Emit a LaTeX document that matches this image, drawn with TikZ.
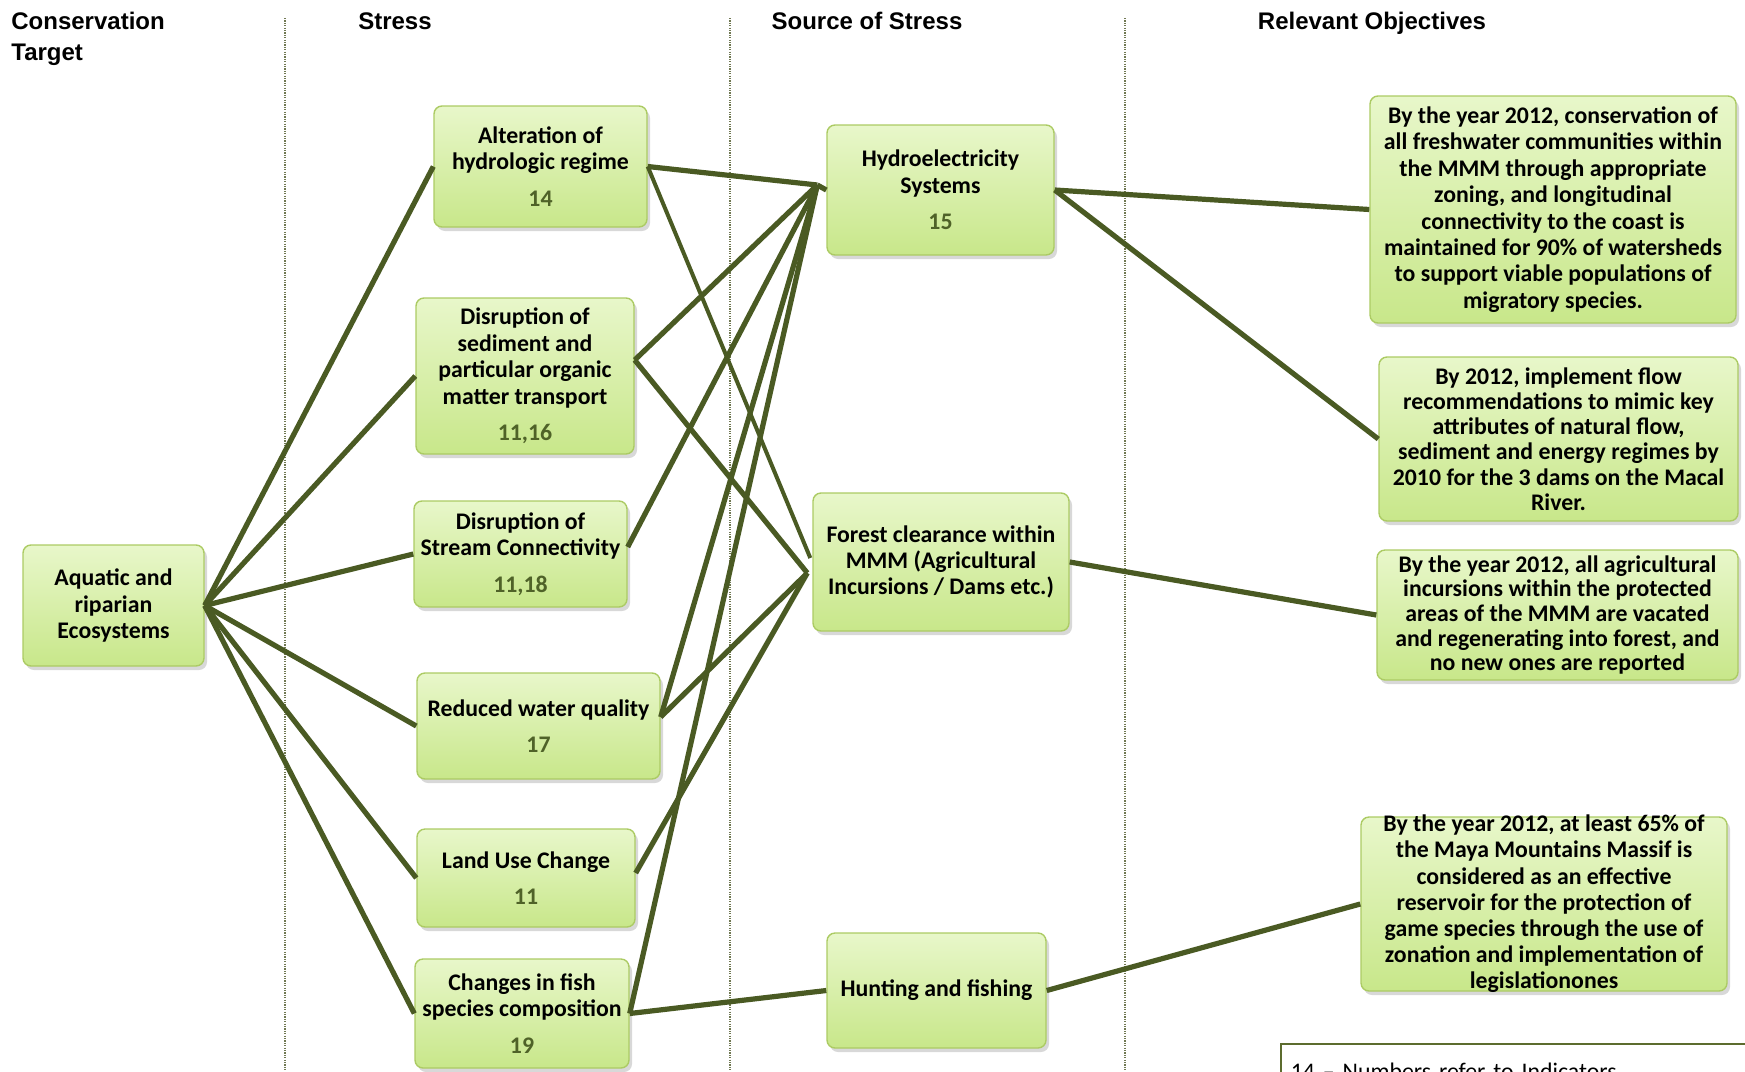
\documentclass[tikz,border=0pt]{standalone}
\usepackage{fontspec}
\setmainfont{Carlito}
\newfontfamily\headfont{Liberation Sans}
\usetikzlibrary{shadows}

\definecolor{linkgreen}{RGB}{74,90,35}
\definecolor{numgreen}{RGB}{79,98,40}
\definecolor{boxtop}{RGB}{232,247,202}
\definecolor{boxmid}{RGB}{220,242,176}
\definecolor{boxbot}{RGB}{200,231,138}
\definecolor{boxrim}{RGB}{172,203,100}
\definecolor{sepgray}{RGB}{112,120,82}
\definecolor{noterim}{RGB}{92,108,46}

\tikzset{
  card/.style={draw=boxrim, line width=0.7pt, rounded corners=4pt,
    top color=boxtop, middle color=boxmid, bottom color=boxbot,
    drop shadow={shadow xshift=1.5pt, shadow yshift=-2pt, opacity=0.28, fill=black!55},
    font=\bfseries\fontsize{11.9}{13.2}\selectfont, align=center, inner sep=2pt, text=black},
  head/.style={font=\headfont\bfseries\fontsize{12}{15.5}\selectfont, inner sep=0pt, align=left},
  sepline/.style={draw=sepgray, line width=0.6pt, dash pattern=on 0.6pt off 0.6pt},
  link/.style={draw=linkgreen, line width=2.6pt},
  thinlink/.style={draw=linkgreen, line width=2pt},
  notebox/.style={draw=noterim, line width=0.8pt, anchor=north west, align=left,
    font=\fontsize{11.9}{13.2}\selectfont, inner xsep=1.5pt, inner ysep=9.6pt,
    minimum width=250pt, text width=240pt},
}
\newcommand{\num}[1]{{\color{numgreen}#1}}

\begin{document}
\begin{tikzpicture}[x=0.5pt, y=-0.5pt]
\useasboundingbox (0,0) rectangle (1745,1071);
\clip (0,0) rectangle (1745,1071);

% column headers
\node[head, anchor=base west] (hdtarget) at (11,60) {Conservation\\Target};
\node[head, anchor=base] (hdstress) at (395,29) {Stress};
\node[head, anchor=base] (hdsource) at (867,29) {Source of Stress};
\node[head, anchor=base] (hdobj) at (1372,29) {Relevant Objectives};

% column separators
\draw[sepline] (285,18) -- (285,1071);
\draw[sepline] (730,18) -- (730,1071);
\draw[sepline] (1125,18) -- (1125,1071);

% conservation target
\node[card, minimum width=90.5pt, minimum height=60.5pt] (aq) at (113.5,605.5)
  {Aquatic and\\riparian\\Ecosystems};

% stresses
\node[card, minimum width=106.5pt, minimum height=60.5pt] (alt) at (540.5,166.5)
  {Alteration of\\hydrologic regime\\[5pt]\num{14}};
\node[card, minimum width=109pt, minimum height=78pt] (sed) at (525,376)
  {Disruption of\\sediment and\\particular organic\\matter transport\\[5pt]\num{11,16}};
\node[card, minimum width=106.5pt, minimum height=53pt] (con) at (520.5,554)
  {Disruption of\\Stream Connectivity\\[5pt]\num{11,18}};
\node[card, minimum width=121.5pt, minimum height=53pt] (wq) at (538.5,726)
  {Reduced water quality\\[5pt]\num{17}};
\node[card, minimum width=109pt, minimum height=49pt] (lu) at (526,878)
  {Land Use Change\\[5pt]\num{11}};
\node[card, minimum width=107pt, minimum height=54.5pt] (fish) at (522,1013.5)
  {Changes in fish\\species composition\\[5pt]\num{19}};

% sources of stress
\node[card, minimum width=113.5pt, minimum height=65pt] (hyd) at (940.5,190)
  {Hydroelectricity\\Systems\\[5pt]\num{15}};
\node[card, minimum width=128pt, minimum height=69pt] (for) at (941,562)
  {Forest clearance within\\MMM (Agricultural\\Incursions / Dams etc.)};
\node[card, minimum width=109.5pt, minimum height=57.5pt] (hunt) at (936.5,990.5)
  {Hunting and fishing};

% objectives
\node[card, minimum width=183pt, minimum height=113.5pt] (o1) at (1553,209.5)
  {By the year 2012, conservation of\\all freshwater communities within\\the MMM through appropriate\\zoning, and longitudinal\\connectivity to the coast is\\maintained for 90\% of watersheds\\to support viable populations of\\migratory species.};
\node[card, minimum width=179.5pt, minimum height=82pt,
      font=\bfseries\fontsize{11.9}{12.6}\selectfont] (o2) at (1558.5,439)
  {By 2012, implement flow\\recommendations to mimic key\\attributes of natural flow,\\sediment and energy regimes by\\2010 for the 3 dams on the Macal\\River.};
\node[card, minimum width=180.5pt, minimum height=65pt,
      font=\bfseries\fontsize{11.9}{12.3}\selectfont] (o3) at (1557.5,615)
  {By the year 2012, all agricultural\\incursions within the protected\\areas of the MMM are vacated\\and regenerating into forest, and\\no new ones are reported};
\node[card, minimum width=183pt, minimum height=87pt, inner ysep=-3pt,
      font=\bfseries\fontsize{11.9}{13.1}\selectfont] (o4) at (1544,904)
  {By the year 2012, at least 65\% of\\the Maya Mountains Massif is\\considered as an effective\\reservoir for the protection of\\game species through the use of\\zonation and implementation of\\legislationones};

% footnote box
\node[notebox] (note) at (1280,1043) {14 -- Numbers refer to Indicators};

% connectors: target to stresses
\draw[link] (aq.east) -- (alt.west);
\draw[link] (aq.east) -- (sed.west);
\draw[link] (aq.east) -- (con.west);
\draw[link] (aq.east) -- (wq.west);
\draw[link] (aq.east) -- (lu.west);
\draw[link] (aq.east) -- (fish.west);

% connectors: stresses to sources
\coordinate (hydin) at ([xshift=-4.5pt,yshift=2.5pt]hyd.west);
\coordinate (forin) at ([xshift=-2.5pt,yshift=-5.5pt]for.west);
\draw[link] (hydin) -- (hyd.west);
\draw[link] (alt.east) -- (hydin);
\draw[thinlink] (alt.east) -- ([xshift=-1pt,yshift=2pt]for.west);
\draw[link] ([yshift=8pt]sed.east) -- (hydin);
\draw[link] ([yshift=8pt]sed.east) -- (forin);
\draw[link] ([yshift=3.5pt]con.east) -- (hydin);
\draw[link] ([yshift=4.5pt]wq.east) -- (hydin);
\draw[link] ([yshift=4.5pt]wq.east) -- (forin);
\draw[link] ([yshift=2.5pt]lu.east) -- (forin);
\draw[link] (fish.east) -- (hydin);
\draw[link] (fish.east) -- (hunt.west);

% connectors: sources to objectives
\draw[link] (hyd.east) -- (o1.west);
\draw[link] (hyd.east) -- (o2.west);
\draw[link] (for.east) -- (o3.west);
\draw[link] (hunt.east) -- (o4.west);
\end{tikzpicture}
\end{document}
